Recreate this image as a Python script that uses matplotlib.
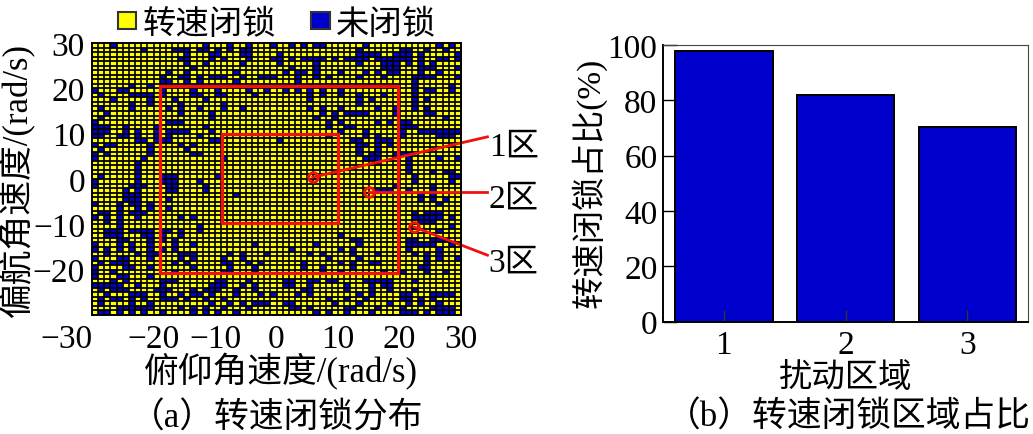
import numpy as np
import matplotlib
matplotlib.use('Agg')
from matplotlib import pyplot as plt
from matplotlib.colors import ListedColormap
from matplotlib.patches import Patch

plt.rcParams['font.family'] = ['Liberation Serif', 'Noto Sans CJK SC']
plt.rcParams['font.size'] = 24

YELLOW = '#FFFF00'
BLUE = '#0000CD'
RED = '#F01010'

# columns that are not locked, one row per list, top row first
unlocked_columns = [
   [3,18,22,25,29,32,34,36,37,44,56,58],
   [8,13,14,15,17,18,20,22,24,25,43,50,51,54,57],
   [15,19,20,24,25,30,43,44,45,46,49,50,51,53,59],
   [14,15,19,21,25,29,30,32,34,35,36,37,39,41,42,43,44,46,47,48,49,50,51,53,56,57,59],
   [15,18,24,30,36,43,47,48,49,51,53,55],
   [16,32,36,47,48,49,53,54,55,59],
   [12,15,23,31,33,34,36,40,44,46,48,49,53,56],
   [11,14,15,17,19,20,21,24,27,28,29,33,36,38,43,47,52,53,54,55,59],
   [11,12,15,17,23,33,52],
   [6,9,16,35,52,58],
   [0,4,5,11,16,20,25,28,31,33,35,37,40,52,54,55,58],
   [1,6,7,8,9,11,16,17,20,21,26,35,37,40,43,47,52],
   [3,9,13,18,35,43,45,52,54],
   [6,9,14,21,43,52],
   [1,6,12,14,17,21,24,35,37,40,46,49,52,54],
   [2,14,19,37,39,41,42,43,44,49,54,55],
   [1,19,36,39,57],
   [0,12,13,14,38,40,46,48,50,51],
   [0,1,2,5,10,18,38,41,42,50,51,52],
   [0,1,2,5,7,10,12,13,14,15,19,40,44,50,53,54,55,56,57,58,59],
   [0,1,4,5,7,10,12,17,38,44,46,50,56,57,58],
   [7,8,10,11,12,19,20,30,42,43,46,47,48],
   [0,2,3,9,14,16,43,44,46,48],
   [1,9,15,43,46],
   [0,2,9,16,17,43,45,46,49,50,51],
   [0,8,21,44,45,46,51,56,59],
   [7,46,51],
   [7,51],
   [7,51,55,57,58],
   [1,7,11,12,13,20,52,58,59],
   [0,7,11,12,13,17,52,58],
   [0,6,7,8,12,13,18,49,55],
   [5,7,12,13,18,46,47,48,51,55],
   [5,6,7,23,53,55],
   [5,6,7,12,53,55,57],
   [0,4,6,7,9,56],
   [4,7,9,12],
   [1,2,4,6,7,8,52,54,55,56],
   [0,2,4,7,14,16,52,53,54,55,56,58],
   [2,4,53,54,55],
   [4,17,58],
   [2,3,4,6,7,8,9,11,12,14,17,56],
   [2,3,4,8,9,11,14,40],
   [4,5,9,11,13,42,43,51,52,55,56,57],
   [0,4,6,9,13,16,26,36,43,51,52,53,54,55,58],
   [0,2,4,6,9,11,13,32,40,42,51,56],
   [2,7,9,10,14,15,16,22,24,28,35,37,42,46,52,54,56],
   [0,4,5,9,14,16,21,24,38,43,54,56,59],
   [1,3,4,5,13,15,21,22,25,27,34,40,42,45,46,54],
   [0,5,6,9,16,22,26,34,37,42,53,54],
   [0,3,13,21,22,26,37,40,47,50,54,57],
   [0,4,5,9],
   [3,5,11,12,13,20,21,25,31,32,35,36,38,39,44,45,46,47,48,52],
   [0,1,2,3,4,7,11,19,20,21,24,26,31,32,35,41,45,47,48],
   [1,3,4,5,10,11,12,16,18,19,20,23,26,34,35,41,45,48,52],
   [2,6,7,8,11,14,16,17,19,23,27,29,33,35,43,45,50,51,55,56,57,58],
   [1,3,4,6,8,11,12,13,15,18,21,38,41,44,50,51,53,55],
   [1,6,9,19,22,24,26,27,28,31,32,39,43,48,51,53,56],
   [4,5,6,7,8,9,14,16,18,21,25,32,33,35,41,42,46,50,55,56,57,58],
   [1,2,4,6,8,11,16,18,20,23,36,38,41,45,50,51,52,54,56,57,58],
]

grid_edges = np.arange(-30, 31)
heat_ticks = [-30, -20, -10, 0, 10, 20, 30]
heat_yticks = [-20, -10, 0, 10, 20, 30]

# region boxes as (x0, x1, y0, y1)
inner_box = (-8.9, 10.0, -9.8, 10.0)
outer_box = (-18.9, 19.8, -20.7, 20.5)

# label, circle point, end of the leader line, label position
region_notes = [
   ('1区', (5.9, 0.4), (34.3, 9.3), (34.5, 7.3)),
   ('2区', (15.0, -2.9), (34.3, -2.9), (34.5, -4.2)),
   ('3区', (22.4, -10.6), (34.3, -16.8), (34.5, -18.3)),
]

bar_regions = [1, 2, 3]
bar_shares = [97.7, 81.8, 70.3]
bar_yticks = [0, 20, 40, 60, 80, 100]

W, H = 1033.0, 435.0

def axesRect(left, top, right, bottom):
   return [left / W, 1 - bottom / H, (right - left) / W, (bottom - top) / H]

def drawBox(ax, box):
   x0, x1, y0, y1 = box
   ax.plot([x0, x1, x1, x0, x0], [y0, y0, y1, y1, y0], color=RED, lw=2.3, solid_joinstyle='miter')

fig = plt.figure(figsize=(W / 100, H / 100), dpi=100)

# (a) locking map
ax1 = fig.add_axes(axesRect(92, 44, 461, 316))
cells = np.zeros((60, 60))
for row, cols in enumerate(unlocked_columns):
   cells[59 - row, cols] = 1
ax1.pcolormesh(grid_edges, grid_edges, cells, cmap=ListedColormap([YELLOW, BLUE]), vmin=0, vmax=1)
# separate lines, the mesh edges come out too heavy at this cell size
ax1.vlines(grid_edges, -30, 30, color='black', lw=1.2)
ax1.hlines(grid_edges, -30, 30, color='black', lw=1.3)
drawBox(ax1, inner_box)
drawBox(ax1, outer_box)

ax1.set_xlim(-30, 30)
ax1.set_ylim(-30, 30)
ax1.set_xticks(heat_ticks)
ax1.set_yticks(heat_yticks)
ax1.tick_params(length=0, pad=5)
ax1.tick_params(axis='x', pad=6)
ax1.get_xticklabels()[0].set_ha('right')
for spine in ax1.spines.values():
   spine.set_linewidth(1.4)

for label, point, end, textPos in region_notes:
   ax1.plot(*point, 'o', ms=7, mfc='none', mec=RED, mew=2, clip_on=False)
   ax1.plot([point[0], end[0]], [point[1], end[1]], color=RED, lw=2, clip_on=False)
   ax1.text(textPos[0], textPos[1], label, ha='left', va='center', clip_on=False)

legend_items = [Patch(facecolor=YELLOW, edgecolor='#333333', lw=1.5, label='转速闭锁'),
                Patch(facecolor=BLUE, edgecolor='#333333', lw=1.5, label='未闭锁')]
fig.legend(handles=legend_items, loc='center', bbox_to_anchor=(277 / W, 1 - 25 / H), ncol=2,
           frameon=False, handlelength=0.55, handleheight=0.4, handletextpad=0.2,
           columnspacing=1.05, borderpad=0, borderaxespad=0)

fig.text(281 / W, 1 - 372 / H, '俯仰角速度/(rad/s)', ha='center', va='center', fontsize=25)
fig.text(17 / W, 1 - 180 / H, '偏航角速度/(rad/s)', ha='center', va='center', rotation=90, fontsize=25)
fig.text(277 / W, 1 - 419 / H, '（a）转速闭锁分布', ha='center', va='center', fontsize=25)

# (b) share per region
ax2 = fig.add_axes(axesRect(663, 46, 1028, 322.5))
ax2.bar(bar_regions, bar_shares, width=0.8, color=BLUE, edgecolor='black', linewidth=1.4)
ax2.set_xlim(0.5, 3.5)
ax2.set_ylim(0, 100)
ax2.set_xticks(bar_regions)
ax2.set_yticks(bar_yticks)
ax2.tick_params(axis='x', direction='in', length=9, width=1, color='#333333', pad=6)
ax2.tick_params(axis='y', direction='in', length=10, width=1, pad=4)
ax2.spines['left'].set_linewidth(1.4)
ax2.spines['bottom'].set_linewidth(1.4)
ax2.spines['top'].set_linewidth(0.8)
ax2.spines['top'].set_color('#444444')
ax2.spines['right'].set_linewidth(0.8)
ax2.spines['right'].set_color('#444444')

fig.text(846 / W, 1 - 379 / H, '扰动区域', ha='center', va='center')
fig.text(589 / W, 1 - 183 / H, '转速闭锁占比(%)', ha='center', va='center', rotation=90)
fig.text(848 / W, 1 - 418 / H, '（b）转速闭锁区域占比', ha='center', va='center', fontsize=25)

fig.savefig('out.png', dpi=100)
